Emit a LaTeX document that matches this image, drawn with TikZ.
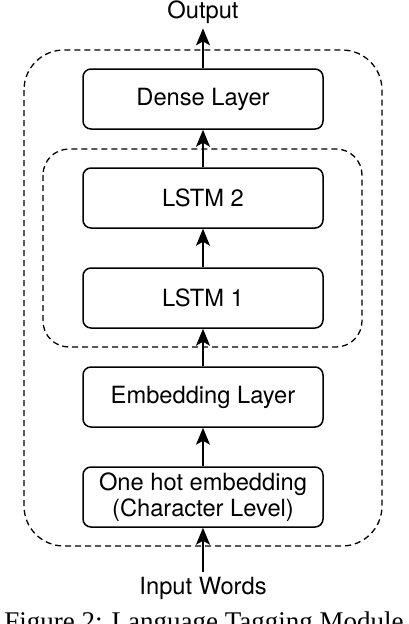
\documentclass[tikz,border=0pt]{standalone}
\usepackage{fontspec}
\setmainfont{Liberation Serif}
\setsansfont{TeX Gyre Heros}
\usetikzlibrary{arrows.meta}

\begin{document}
\begin{tikzpicture}[x=1pt, y=-1pt,
  layer/.style={draw, line width=1.5pt, rounded corners=8pt, minimum width=240pt,
    minimum height=60pt, inner sep=0pt, align=center, font=\sffamily\fontsize{23.7}{26}\selectfont},
  iotext/.style={anchor=base, inner sep=5pt, font=\sffamily\fontsize{23.7}{26}\selectfont},
  group/.style={dash pattern=on 6pt off 4pt, line width=1.3pt, rounded corners=#1},
  flow/.style={-{Stealth[length=17pt, width=14pt, inset=4pt]}, line width=1.5pt}]
\useasboundingbox (0,0) rectangle (408,624);

% Dashed groups
\draw[group=40pt] (24,50) rectangle (382,546);
\draw[group=26pt] (43,149) rectangle (362,347);

% Layers
\node[layer] (dense) at (203,99) {Dense Layer};
\node[layer] (lstm2) at (203,198) {LSTM 2};
\node[layer] (lstm1) at (203,298) {LSTM 1};
\node[layer] (embed) at (203,397) {Embedding Layer};
\node[layer] (onehot) at (203,497) {One hot embedding\\(Character Level)};

% Input and output
\node[iotext] (output) at (203,18) {Output};
\node[iotext] (input) at (203,594) {Input Words};

% Flow
\draw[flow] (input) -- (onehot);
\draw[flow] (onehot) -- (embed);
\draw[flow] (embed) -- (lstm1);
\draw[flow] (lstm1) -- (lstm2);
\draw[flow] (lstm2) -- (dense);
\draw[flow] (dense) -- (output);

% Caption
\node[anchor=base, inner sep=0pt, font=\rmfamily\fontsize{27}{30}\selectfont] (caption) at (204,630)
  {Figure 2: Language Tagging Module};
\end{tikzpicture}
\end{document}
